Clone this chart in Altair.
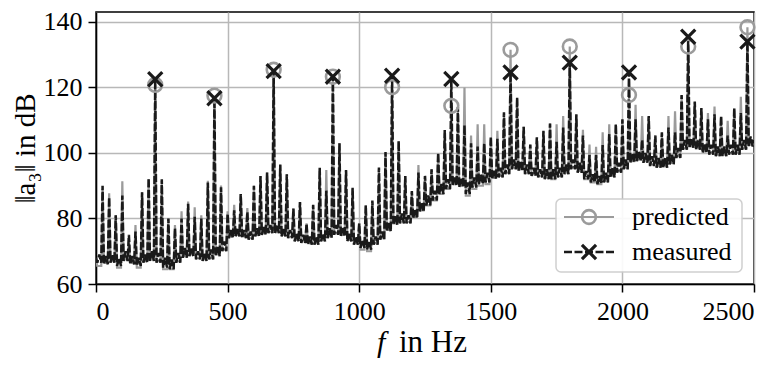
import altair as alt
import pandas as pd

FONT = "Liberation Serif"
GRAY = "#9b9b9b"
BLACK = "#1a1a1a"

# spectral lines (Hz) of the spectrum
spike_hz = list(range(25, 2501, 25))

# measured peak levels (dB) at each spectral line
meas_peak = [
    90, 86.5, 81, 87, 75, 76, 88, 92.3, 122.5, 92,
    80, 77, 80, 84.5, 80.5, 80, 91, 116.7, 89.5, 81.5,
    82.5, 87.5, 82, 90, 93, 94, 125, 96.5, 93.5, 83,
    85, 78.5, 84.2, 95.5, 88.5, 123.3, 103, 94.8, 89.4, 78.5,
    84, 85.5, 95.6, 100.3, 123.6, 103.7, 93, 88.4, 94, 93,
    95, 100, 107, 122.6, 114, 108.5, 103, 102, 103, 105,
    104.3, 112.4, 124.6, 117, 108, 102.6, 104.8, 106.8, 109, 103.4,
    107.8, 127.6, 111.8, 105.3, 99.4, 99.4, 102.4, 105.8, 108.8, 110.3,
    124.6, 110.3, 104, 111.3, 105.3, 106.3, 107.8, 106.3, 117.7, 135.5,
    115.7, 113.7, 110.3, 111.8, 111.3, 105.3, 113.7, 112.2, 134, 104,
]

# predicted peak levels (dB)
pred_peak = [
    89, 87.7, 81, 91.4, 74, 78, 88, 92, 120.8, 91.5,
    80, 78, 82.2, 85.2, 83.4, 81, 91.5, 117.5, 90.1, 82.2,
    84.2, 87.5, 83.2, 90, 93, 94, 125.4, 96.3, 93.5, 83,
    85, 78.5, 84, 95, 94.8, 123.3, 103, 94.5, 89, 78.5,
    84, 85, 95, 100, 120.1, 103.5, 93, 88, 96.3, 93,
    95, 100, 106, 114.4, 113, 120, 105.3, 108.8, 108.8, 104,
    106.8, 112, 131.5, 116.5, 108, 102.5, 104.5, 106.5, 109, 108.8,
    111.3, 132.5, 111.5, 107.1, 102.6, 101.9, 106.3, 108.8, 108.8, 110,
    117.7, 114.7, 111.3, 111, 105.3, 106, 111.3, 112.7, 117.5, 132.5,
    115.5, 113.5, 112.2, 114.2, 111, 109.8, 113.5, 117.2, 138.4, 104,
]

# noise floor between lines (measured: low / high, predicted)
meas_floor_lo = [
    66.5, 66, 66.5, 65.5, 67, 66, 65.5, 66.5, 67, 66.5,
    65, 64.5, 66.5, 68, 68.5, 67.5, 67, 67.5, 68.5, 70,
    74, 74.5, 74, 73.5, 74.5, 75, 75.5, 75.5, 74.5, 74,
    73, 72.5, 72, 72, 73, 74, 75, 74.5, 73, 72,
    71, 70.5, 72, 73.5, 76, 78, 78.5, 78.5, 80, 82,
    84, 85.5, 87.5, 89, 90, 89.5, 87.5, 89.5, 90.5, 91,
    92, 92.5, 93.5, 95, 94.5, 93.5, 93, 92.5, 92, 92,
    92.5, 93.5, 95, 94, 92, 91, 90.5, 91, 92.5, 94,
    95, 97, 97.5, 97, 96, 95.5, 95.5, 96.5, 98.5, 101,
    101.5, 101, 100, 99.5, 99, 99, 99.5, 99.5, 101, 102,
]
meas_floor_hi = [
    69, 68.5, 69, 68, 70, 68.5, 68, 69, 70, 69.5,
    68, 67.5, 69.5, 71, 71, 70, 69.5, 70.5, 71.5, 73,
    76.5, 77, 76.5, 76, 77, 77.5, 78, 78, 77, 76.5,
    75.5, 75, 74.5, 74.5, 75.5, 77, 78, 77.5, 75.5, 74.5,
    73.5, 73, 74.5, 76, 79, 81, 81.5, 81, 83, 85,
    87, 88.5, 90.5, 92, 93, 92.5, 91, 92.5, 93.5, 94,
    95, 95.5, 96.5, 98, 97.5, 96.5, 95.5, 95, 95, 95,
    95.5, 96.5, 98, 97, 94.5, 93.5, 93, 94, 95.5, 97,
    98, 100, 100.5, 100, 99, 98.5, 98.5, 99.5, 101.5, 104,
    104.5, 104, 103, 102.5, 102, 102, 102.5, 102.5, 104, 105,
]
pred_floor = [
    65.5, 66.5, 67, 65, 67.5, 66.5, 65, 67, 67.5, 67,
    64.5, 64.5, 67, 68.5, 69, 68, 67.5, 68, 69, 70.5,
    74.5, 75, 74.5, 74, 75, 75.5, 76, 76, 75, 74.5,
    73.5, 73, 72.5, 72.5, 73.5, 74.5, 75.5, 75, 73.5, 72.5,
    70.5, 70, 72.5, 74, 76.5, 78.5, 79, 79, 80.5, 82.5,
    84, 85.5, 87.5, 89, 90.5, 90, 87, 89, 90, 90.5,
    92.5, 93, 94, 95.5, 95, 94, 93.5, 93, 92.5, 92,
    93, 94, 95.5, 94.5, 92, 91, 90.5, 91.5, 93, 94.5,
    95.5, 97.5, 98, 97.5, 96.5, 96, 96, 97, 99, 101.5,
    102, 101.5, 100.5, 100, 99.5, 99.5, 100, 100, 101.5, 102.5,
]
meas_start = 68
pred_start = 67

# harmonic peaks marked in the figure (indices into spike_hz)
main_idx = [8, 17, 26, 35, 44, 53, 62, 71, 80, 89, 98]

legend_labels = ["predicted", "measured"]
x_ticks = [0, 500, 1000, 1500, 2000, 2500]
y_ticks = [60, 80, 100, 120, 140]

# ---- build line tables ----
rows_m = [{"f": 0, "db": meas_start}]
rows_p = [{"f": 0, "db": pred_start}]
prev = 0
for g in range(len(spike_hz)):
    rows_m += [
        {"f": prev + 5, "db": meas_floor_lo[g]},
        {"f": prev + 12.5, "db": meas_floor_hi[g]},
        {"f": prev + 20, "db": meas_floor_lo[g]},
        {"f": spike_hz[g], "db": meas_peak[g]},
    ]
    rows_p += [
        {"f": prev + 5, "db": pred_floor[g]},
        {"f": prev + 20, "db": pred_floor[g]},
        {"f": spike_hz[g], "db": pred_peak[g]},
    ]
    prev = spike_hz[g]
df_m = pd.DataFrame(rows_m)
df_m["i"] = range(len(df_m))
df_p = pd.DataFrame(rows_p)
df_p["i"] = range(len(df_p))

df_mk = pd.DataFrame({
    "f": [spike_hz[i] for i in main_idx],
    "meas": [meas_peak[i] for i in main_idx],
    "pred": [pred_peak[i] for i in main_idx],
})

xs = alt.X("f:Q", scale=alt.Scale(domain=[0, 2500], nice=False, zero=False),
           axis=alt.Axis(values=x_ticks, title=None, format="d"))
def ys(field):
    return alt.Y(f"{field}:Q", scale=alt.Scale(domain=[60, 143.05], nice=False, zero=False),
                 axis=alt.Axis(values=y_ticks, title="‖a₃‖ in dB", titlePadding=3))

X_PATH = "M-1,-1L1,1M-1,1L1,-1"

pred_line = alt.Chart(df_p).mark_line(color=GRAY, strokeWidth=2.2, clip=True).encode(
    x=xs, y=ys("db"), order="i:Q")
meas_line = alt.Chart(df_m).mark_line(color=BLACK, strokeWidth=2.5, strokeDash=[8, 2.5], clip=True).encode(
    x=xs, y=ys("db"), order="i:Q")
pred_pts = alt.Chart(df_mk).mark_point(shape="circle", filled=False, color=GRAY, strokeWidth=2.6,
                                       size=190, opacity=1).encode(x=xs, y=ys("pred"))
meas_pts = alt.Chart(df_mk).mark_point(shape=X_PATH, filled=False, color=BLACK, strokeWidth=3.2,
                                       size=200, opacity=1).encode(x=xs, y=ys("meas"))

one = pd.DataFrame({"k": [0]})
leg_box = alt.Chart(one).mark_rect(fill="white", stroke="#cccccc", strokeWidth=1.5,
                                   cornerRadius=5, opacity=0.92).encode(
    x=alt.value(460), x2=alt.value(646), y=alt.value(187), y2=alt.value(260))
leg_r1 = alt.Chart(one).mark_rule(color=GRAY, strokeWidth=2.2).encode(
    x=alt.value(468), x2=alt.value(518), y=alt.value(205))
leg_p1 = alt.Chart(one).mark_point(shape="circle", filled=False, color=GRAY, strokeWidth=2.6,
                                   size=190, opacity=1).encode(x=alt.value(493), y=alt.value(205))
leg_r2 = alt.Chart(one).mark_rule(color=BLACK, strokeWidth=2.5, strokeDash=[8, 2.5]).encode(
    x=alt.value(468), x2=alt.value(518), y=alt.value(240))
leg_p2 = alt.Chart(one).mark_point(shape=X_PATH, filled=False, color=BLACK, strokeWidth=3.2,
                                   size=200, opacity=1).encode(x=alt.value(493), y=alt.value(240))
leg_t1 = alt.Chart(one).mark_text(align="left", baseline="middle", font=FONT, fontSize=26,
                                  color="black").encode(x=alt.value(536), y=alt.value(205),
                                                        text=alt.value(legend_labels[0]))
leg_t2 = alt.Chart(one).mark_text(align="left", baseline="middle", font=FONT, fontSize=26,
                                  color="black").encode(x=alt.value(536), y=alt.value(240),
                                                        text=alt.value(legend_labels[1]))

xt_f = alt.Chart(one).mark_text(align="left", baseline="middle", font=FONT, fontSize=30,
                                fontStyle="italic", color="black").encode(
    x=alt.value(281), y=alt.value(331), text=alt.value("f"))
xt_rest = alt.Chart(one).mark_text(align="left", baseline="middle", font=FONT, fontSize=31,
                                   color="black").encode(
    x=alt.value(303), y=alt.value(331), text=alt.value("in Hz"))

chart = alt.layer(
    pred_line, meas_line, pred_pts, meas_pts,
    leg_box, leg_r1, leg_p1, leg_r2, leg_p2, leg_t1, leg_t2, xt_f, xt_rest,
).properties(
    width=658, height=272,
    padding={"left": 3, "top": 0, "right": 0, "bottom": 0},
).configure_view(
    stroke="black", strokeWidth=1.5,
).configure_axis(
    labelFont=FONT, labelFontSize=26, labelColor="black",
    titleFont=FONT, titleFontSize=29, titleFontWeight="normal", titleColor="black",
    gridColor="#b8b8b8", gridWidth=1.5,
    domainColor="black", domainWidth=1.5,
    tickColor="black", tickWidth=1.5, tickSize=8, labelPadding=6,
)

chart.save("out.html", embed_options={"renderer": "svg", "actions": False})
